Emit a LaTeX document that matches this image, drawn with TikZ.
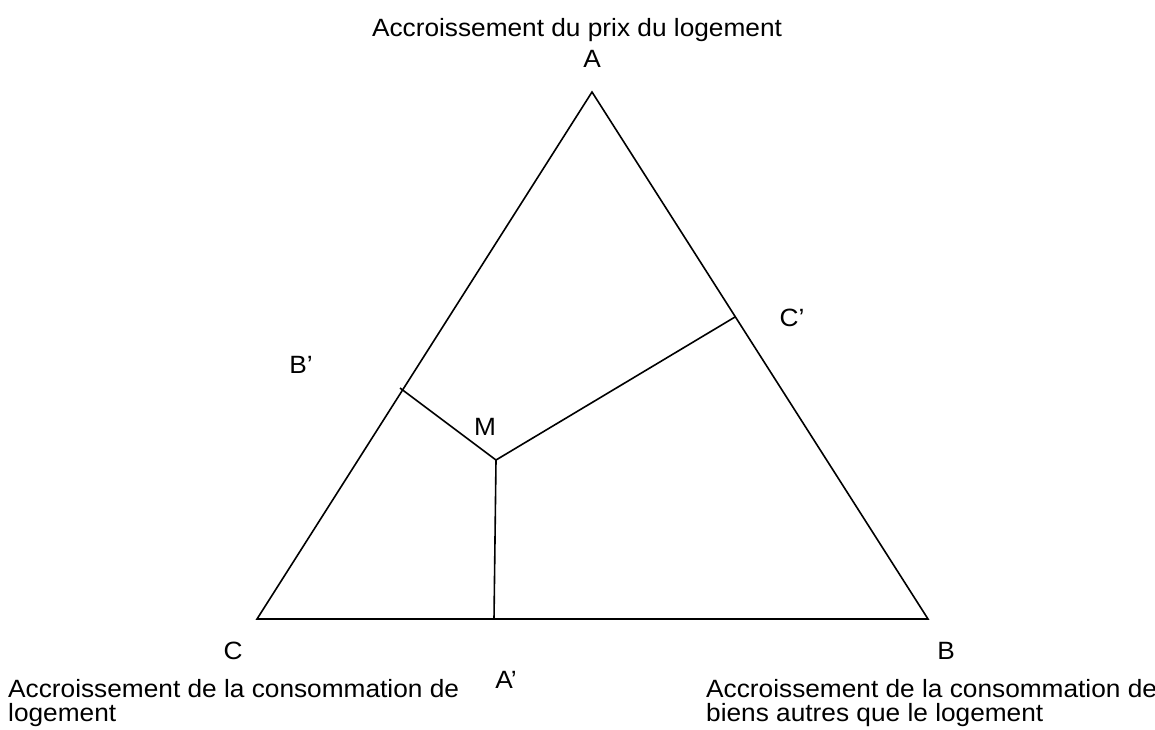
\documentclass[tikz,border=0pt]{standalone}
\usepackage{fontspec}
\setmainfont[FakeStretch=1.05]{Liberation Sans}
\begin{document}
\begin{tikzpicture}[x=1pt,y=-1pt,
  edge/.style={line width=1.6pt,black},
  lbl/.style={inner sep=0pt,font=\fontsize{25}{28}\selectfont},
  txt/.style={inner sep=0pt,anchor=base west,font=\fontsize{25}{28}\selectfont}]
\useasboundingbox (0,0) rectangle (1155,729);
\coordinate (A) at (592,92);
\coordinate (B) at (928,619);
\coordinate (C) at (257,619);
\coordinate (M) at (496,460);
\coordinate (Ap) at (494,619);
\coordinate (Bp) at (400,388);
\coordinate (Cp) at (735,317);
\draw[edge,line join=miter] (A) -- (B) -- (C) -- cycle;
\draw[edge] (M) -- (Ap);
\draw[edge] (M) -- (Bp);
\draw[edge] (M) -- (Cp);
\node[lbl] (tA) at (577,30) {Accroissement du prix du logement};
\node[lbl] (lA) at (592,59) {A};
\node[lbl] (lCp) at (792,318) {C’};
\node[lbl] (lBp) at (301,365) {B’};
\node[lbl] (lM) at (485,427) {M};
\node[lbl] (lC) at (233,651) {C};
\node[lbl] (lB) at (946,651) {B};
\node[lbl] (lAp) at (506,680) {A’};
\node[txt] (tC1) at (8,697) {Accroissement de la consommation de};
\node[txt] (tC2) at (8,721) {logement};
\node[txt] (tB1) at (706,697) {Accroissement de la consommation de};
\node[txt] (tB2) at (706,721) {biens autres que le logement};
\end{tikzpicture}
\end{document}
